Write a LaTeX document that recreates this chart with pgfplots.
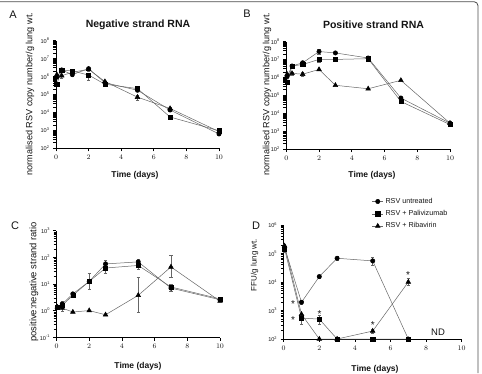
\documentclass[border=0pt]{standalone}
\usepackage{fontspec}
\setmainfont{Liberation Sans}
\usepackage{pgfplots}
\pgfplotsset{compat=1.18}
\definecolor{lg}{HTML}{666666}
\definecolor{txt}{HTML}{141414}
\pgfplotsset{
  myprismaxis/.style={
    scale only axis, clip=false,
    axis x line*=bottom, axis y line*=left,
    axis line style={-, black, line width=0.8pt},
    tick align=outside, major tick length=3pt,
    tick style={black, line width=0.8pt},
    xmin=0, xmax=10, xtick={0,2,4,6,8,10},
    yticklabel style={font=\fontsize{5.6}{6}\selectfont, text=txt},
    xticklabel style={font=\fontsize{7.3}{7.5}\selectfont\bfseries, text=txt},
  },
  myeb/.style={
    line width=0.5pt, draw=lg,
    error bars/y dir=both, error bars/y explicit,
    error bars/error bar style={lg, line width=0.5pt},
    error bars/error mark options={rotate=90, mark size=1.6pt, lg, line width=0.5pt}},
  serA/.style={myeb, mark=*, mark size=2.2pt, mark options={fill=black, draw=black, solid}},
  serB/.style={myeb, mark=square*, mark size=2.1pt, mark options={fill=black, draw=black, solid}},
  serC/.style={myeb, mark=triangle*, mark size=2.7pt, mark options={fill=black, draw=black, solid}},
}
\begin{document}
\begin{tikzpicture}
\useasboundingbox (0pt,0pt) rectangle (482pt,373pt);
% frame (top and right)
\draw[gray!60!black, line width=0.8pt, rounded corners=4pt] (0pt,371.3pt) -- (478pt,371.3pt) -- (478pt,0pt);

% ---------------- Panel A ----------------
\begin{axis}[myprismaxis, ymode=log, at={(56pt,224.7pt)}, anchor=south west, width=163pt, height=107.8pt,
  ymin=1e2, ymax=1e8, ytick={1e2,1e3,1e4,1e5,1e6,1e7,1e8},
  yticklabels={10\textsuperscript{2},10\textsuperscript{3},10\textsuperscript{4},10\textsuperscript{5},10\textsuperscript{6},10\textsuperscript{7},10\textsuperscript{8}}]
\addplot[serA] coordinates {(0.05,9.1e5) (0.35,2.3e6) (1,1.26e6) -= (0,0.25e6) (2,2.7e6) += (0,0.6e6) -= (0,0.7e6) (3,4.5e5) (5,1.7e5) (7,1.35e4) (10,6.3e2)};
\addplot[serB] coordinates {(0.05,3.7e5) (0.35,2.3e6) (1,2.0e6) (2,1.2e6) += (0,0.4e6) -= (0,0.55e6) (3,3.7e5) -= (0,0.9e5) (5,2.1e5) (7,5.5e3) (10,9.5e2)};
\addplot[serC] coordinates {(0.05,1.26e6) (0.35,1.1e6) += (0,0.2e6) -= (0,0.3e6) (1,1.7e6) (2,2.5e6) (3,5.2e5) (5,7.0e4) +- (0,2e4) (7,1.65e4) +- (0,3e3) (10,8.5e2)};
\end{axis}

% ---------------- Panel B ----------------
\begin{axis}[myprismaxis, ymode=log, at={(286.3pt,224pt)}, anchor=south west, width=163.7pt, height=107.5pt,
  ymin=1e2, ymax=1e8, ytick={1e2,1e3,1e4,1e5,1e6,1e7,1e8},
  yticklabels={10\textsuperscript{2},10\textsuperscript{3},10\textsuperscript{4},10\textsuperscript{5},10\textsuperscript{6},10\textsuperscript{7},10\textsuperscript{8}}]
\addplot[serA] coordinates {(0.05,1.1e6) (0.35,4.3e6) (1,6.5e6) +- (0,1.5e6) (2,2.75e7) += (0,0.8e7) -= (0,0.7e7) (3,2.3e7) (5,1.2e7) (7,7.0e4) (10,2.75e3)};
\addplot[serB] coordinates {(0.05,5.5e5) (0.35,4.3e6) (1,5.2e6) (2,1.0e7) +- (0,0.3e7) (3,1.0e7) (5,1.1e7) (7,4.5e4) (10,2.3e3)};
\addplot[serC] coordinates {(0.05,1.5e6) (0.35,1.66e6) +- (0,0.3e6) (1,1.5e6) +- (0,0.4e6) (2,2.75e6) (3,3.6e5) (5,2.3e5) (7,6.8e5) (10,2.75e3)};
\end{axis}

% ---------------- Panel C ----------------
\begin{axis}[myprismaxis, ymode=log, at={(56.5pt,35.5pt)}, anchor=south west, width=163.5pt, height=106.8pt,
  ymin=1e-1, ymax=1e3, ytick={1e-1,1,1e1,1e2,1e3},
  yticklabels={10\textsuperscript{-1},10\textsuperscript{0},10\textsuperscript{1},10\textsuperscript{2},10\textsuperscript{3}}]
\addplot[serA] coordinates {(0.05,1.38) (0.35,1.8) +- (0,0.5) (1,4.3) +- (0,0.8) (2,12.6) += (0,12) -= (0,6) (3,57) += (0,18) -= (0,15) (5,68) += (0,15) -= (0,12) (7,7.1) +- (0,1.5) (10,2.6) +- (0,0.4)};
\addplot[serB] coordinates {(0.05,1.38) (0.35,1.6) (1,3.8) (2,12.6) (3,40) -= (0,15) (5,50) -= (0,15) (7,7.8) += (0,1.8) (10,2.8)};
\addplot[serC] coordinates {(0.05,1.38) (0.35,1.26) -= (0,0.3) (1,0.9) (2,1.02) (3,0.71) (5,3.8) += (0,14) -= (0,2.9) (7,44) += (0,72) -= (0,26) (10,2.3)};
\end{axis}

% ---------------- Panel D ----------------
\begin{axis}[myprismaxis, ymode=log, at={(283.7pt,34pt)}, anchor=south west, width=178pt, height=114pt,
  ymin=1e2, ymax=1e6, ytick={1e2,1e3,1e4,1e5,1e6},
  yticklabels={10\textsuperscript{2},10\textsuperscript{3},10\textsuperscript{4},10\textsuperscript{5},10\textsuperscript{6}},
  legend style={at={(0.495,1.255)}, anchor=north west, draw=none, fill=none,
    font=\fontsize{7.2}{8}\selectfont, text=txt, inner sep=0pt, row sep=1.6pt,
    /tikz/every even column/.append style={column sep=3pt}},
  legend cell align=left,
  legend image code/.code={\draw[mark repeat=2, mark phase=2, #1] plot coordinates {(0pt,0pt) (5.5pt,0pt) (11pt,0pt)};}]
\addplot[serA] coordinates {(0.05,1.6e5) += (0,0.5e5) -= (0,0.4e5) (1,1.95e3) +- (0,0.3e3) (2,1.55e4) +- (0,0.2e4) (3,6.8e4) +- (0,1e4) (5,5.5e4) += (0,2e4) -= (0,1.5e4) (7,1e2)};
\addplot[serB] coordinates {(0.05,1.45e5) -= (0,0.35e5) (1,5.4e2) += (0,2.6e2) -= (0,2.1e2) (2,5.0e2) += (0,1.8e2) -= (0,1.7e2) (3,1e2) (5,1e2) (7,1e2)};
\addplot[serC] coordinates {(0.05,1.85e5) += (0,0.3e5) (1,7.4e2) (2,1e2) (3,1e2) (5,1.9e2) +- (0,0.3e2) (7,1.0e4) += (0,0.4e4) -= (0,0.25e4)};
\legend{RSV untreated, RSV + Palivizumab, RSV + Ribavirin}
\node[font=\fontsize{10}{10}\selectfont, text=txt, yshift=-2pt] at (axis cs:0.52,1950) {*};
\node[font=\fontsize{10}{10}\selectfont, text=txt, yshift=-2pt] at (axis cs:0.52,540) {*};
\node[font=\fontsize{10}{10}\selectfont, text=txt, yshift=-2pt] at (axis cs:2.02,910) {*};
\node[font=\fontsize{10}{10}\selectfont, text=txt, yshift=-2pt] at (axis cs:5.0,355) {*};
\node[font=\fontsize{10}{10}\selectfont, text=txt, yshift=-2pt] at (axis cs:6.98,2.0e4) {*};
\node[font=\fontsize{9.5}{10}\selectfont, text=txt] at (axis cs:8.67,166) {ND};
\end{axis}

% titles, labels, panel letters
\node[font=\fontsize{10.5}{11}\selectfont\bfseries, text=txt] at (138pt,348pt) {Negative strand RNA};
\node[font=\fontsize{10.5}{11}\selectfont\bfseries, text=txt] at (373.5pt,348pt) {Positive strand RNA};
\node[rotate=90, font=\fontsize{9.1}{10}\selectfont, text=txt] at (30pt,279pt) {normalised RSV copy number/g lung wt.};
\node[rotate=90, font=\fontsize{9.1}{10}\selectfont, text=txt] at (267pt,279pt) {normalised RSV copy number/g lung wt.};
\node[rotate=90, font=\fontsize{9.4}{10}\selectfont, text=txt] at (34pt,91pt) {positive:negative strand ratio};
\node[rotate=90, font=\fontsize{8}{10}\selectfont, text=txt] at (254.5pt,108pt) {FFU/g lung wt.};
\node[font=\fontsize{8.5}{10}\selectfont\bfseries, text=txt] at (135pt,198pt) {Time (days)};
\node[font=\fontsize{8.5}{10}\selectfont\bfseries, text=txt] at (372pt,198pt) {Time (days)};
\node[font=\fontsize{8.5}{10}\selectfont\bfseries, text=txt] at (138pt,7pt) {Time (days)};
\node[font=\fontsize{8.5}{10}\selectfont\bfseries, text=txt] at (375pt,4pt) {Time (days)};
\node[font=\fontsize{11}{12}\selectfont, text=txt] at (13pt,358pt) {A};
\node[font=\fontsize{11}{12}\selectfont, text=txt] at (247pt,359pt) {B};
\node[font=\fontsize{11}{12}\selectfont, text=txt] at (15pt,147pt) {C};
\node[font=\fontsize{11}{12}\selectfont, text=txt] at (256pt,147pt) {D};
\end{tikzpicture}
\end{document}
